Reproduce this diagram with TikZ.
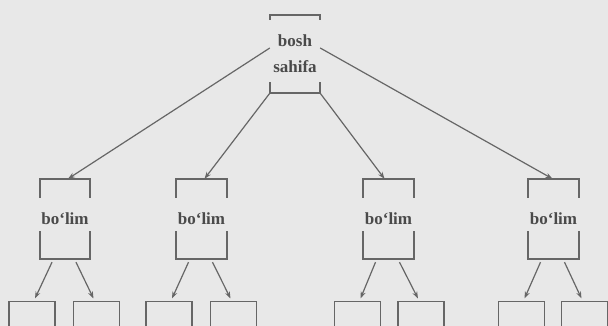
\documentclass[tikz,border=0pt]{standalone}
\usepackage{fontspec}
\setmainfont{Liberation Serif}
\usetikzlibrary{arrows.meta,calc}
\definecolor{bg}{HTML}{E8E8E8}
\definecolor{ln}{HTML}{666666}
\definecolor{tx}{HTML}{4A4A4A}
\tikzset{
  brk/.style={minimum width=50pt,inner sep=0pt,text=tx,font=\bfseries\fontsize{17}{26}\selectfont,align=center},
  leaf/.style={draw=ln,line width=1.7pt,minimum width=46pt,minimum height=110pt,anchor=north,inner sep=0pt},
  brkline/.style={draw=ln,line width=1.9pt},
  arr/.style={draw=ln,line width=1.2pt,-{Stealth[length=7pt,width=5pt]}}
}
\begin{document}
\begin{tikzpicture}[x=1pt,y=-1pt]
\fill[bg] (0,0) rectangle (608,326);
\useasboundingbox (0,0) rectangle (608,326);
\clip (0,0) rectangle (608,326);
% top node
\node[brk,minimum height=78pt] (top) at (295,54) {bosh\\sahifa};
\draw[brkline] ($(top.north west)+(0,5)$) -- (top.north west) -- (top.north east) -- ++(0,5);
\draw[brkline] ($(top.south west)+(0,-11)$) -- (top.south west) -- (top.south east) -- ++(0,-11);
% section nodes
\foreach \n/\x in {b1/65,b2/201.5,b3/388.5,b4/553.5}{
  \node[brk,minimum height=80pt] (\n) at (\x,219) {bo‘lim};
  \draw[brkline] ($(\n.north west)+(0,19)$) -- (\n.north west) -- (\n.north east) -- ++(0,19);
  \draw[brkline] ($(\n.south west)+(0,-28)$) -- (\n.south west) -- (\n.south east) -- ++(0,-28);
}
% leaves
\foreach \n/\x in {l1/32,l2/96.5,l3/169,l4/233.5,l5/357.5,l6/421,l7/521.5,l8/584.5}{
  \node[leaf] (\n) at (\x,300.5) {};
}
% arrows from top
\draw[arr] ($(top.west)+(0,-6)$) -- ($(b1.north)+(3,0)$);
\draw[arr] (top.south west) -- ($(b2.north)+(3,0)$);
\draw[arr] (top.south east) -- ($(b3.north)+(-4,0)$);
\draw[arr] ($(top.east)+(0,-6)$) -- ($(b4.north)+(-1,0)$);
% arrows to leaves
\foreach \b/\la/\lb in {b1/l1/l2,b2/l3/l4,b3/l5/l6,b4/l7/l8}{
  \draw[arr] ($(\b.south)+(-13,3)$) -- ($(\la.north)+(3,-2)$);
  \draw[arr] ($(\b.south)+(11,3)$) -- ($(\lb.north)+(-3,-2)$);
}
\end{tikzpicture}
\end{document}
